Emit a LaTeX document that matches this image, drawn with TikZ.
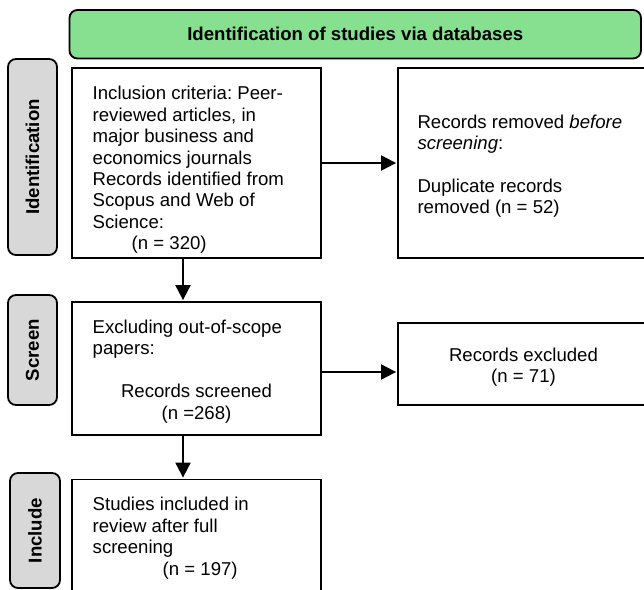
\documentclass[tikz,border=0pt]{standalone}
\usepackage{fontspec}
\setmainfont{Liberation Sans}
\usepackage{xcolor}
\usetikzlibrary{arrows.meta}

\definecolor{bannergreen}{RGB}{134,224,143}
\definecolor{phasegray}{RGB}{216,216,216}

\begin{document}
\begin{tikzpicture}[x=1pt,y=-1pt,>={Triangle[length=15pt,width=15pt]},shorten >=1pt,
		line width=1.8pt]
		\tikzstyle{every node}=[font=\fontsize{18.6}{21.4}\selectfont\frenchspacing]
		\tikzstyle{record}=[draw,fill=white,inner sep=0pt,text width=207.6pt,align=flush left]
		\tikzstyle{phase}=[draw,fill=phasegray,rounded corners=8pt,rotate=90,inner sep=0pt,
			font=\fontsize{18.6}{21.4}\selectfont\bfseries]
		
		\useasboundingbox (0,0) rectangle (644,589);
		
		\node[draw,fill=bannergreen,rounded corners=8pt,minimum width=571.5pt,minimum height=48.5pt,
			font=\fontsize{18.6}{21.4}\selectfont\bfseries] (banner) at (355.25,34.25)
			{Identification of studies via databases};
		
		\node[phase] (idphase)     [minimum width=196pt, minimum height=49pt] at (32.5,157) {Identification};
		\node[phase] (screenphase) [minimum width=110pt, minimum height=49pt] at (32.5,350) {Screen};
		\node[phase] (inclphase)   [minimum width=115pt, minimum height=50pt] at (35,530.5)  {Include};
		
		% first-line struts push the text down inside the box
		\node[record] (idbox) [minimum width=249pt, minimum height=190pt] at (196.5,163)
			{\rule{0pt}{27.6pt}Inclusion criteria: Peer-\\reviewed articles, in\\major business and\\economics journals\\Records identified from\\Scopus and Web of\\Science:\\\hspace*{39pt}(n = 320)};
		\node[record] (removed) [text width=212pt, minimum width=251pt, minimum height=190pt] at (523.5,163)
			{\rule{0pt}{19.6pt}Records removed \textit{before}\\\textit{screening}:\\[21.4pt]Duplicate records\\removed (n = 52)};
		\node[record] (screenbox) [minimum width=249pt, minimum height=133pt] at (196.5,368.5)
			{\rule{0pt}{19.6pt}Excluding out-of-scope\\papers:\\[21.4pt]\makebox[207.6pt]{Records screened}\\\makebox[207.6pt]{(n =268)}};
		\node[record] (excluded) [align=flush center, text width=212pt, minimum width=251pt, minimum height=82pt] at (523.5,364)
			{\rule{0pt}{19.6pt}Records excluded\\(n = 71)};
		\node[record] (inclbox) [minimum width=249pt, minimum height=117.5pt] at (196.5,538.25)
			{Studies included in\\review after full\\screening\\\hspace*{70pt}(n = 197)};
		
		\coordinate (idtail)     at ([xshift=-13.5pt]idbox.south);
		\coordinate (screentail) at ([xshift=-13.5pt]screenbox.south);
		\coordinate (screenside) at ([yshift=-3.5pt]screenbox.east);
		
		\path[->,line width=2pt]
		(idbox)      edge (removed)
		(idtail)     edge (idtail |- screenbox.north)
		(screenside) edge (screenside -| excluded.west)
		(screentail) edge (screentail |- inclbox.north);
		
\end{tikzpicture}
\end{document}
